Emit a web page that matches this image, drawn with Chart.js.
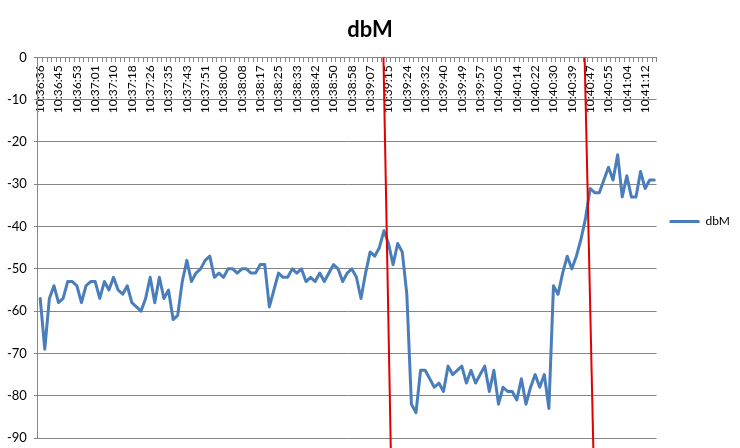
<!DOCTYPE html>
<html>
<head>
<meta charset="utf-8">
<script src="https://cdn.jsdelivr.net/npm/chart.js@4/dist/chart.umd.min.js"></script>
<style>
  html, body { margin: 0; padding: 0; background: #ffffff; }
  #wrap { width: 740px; height: 448px; position: relative; }
</style>
</head>
<body>
<div id="wrap"><canvas id="c"></canvas></div>
<script>
// Visible tick labels (every 4th sample is labelled on the axis)
const tickLabels = ['10:36:36','10:36:45','10:36:53','10:37:01','10:37:10','10:37:18','10:37:26','10:37:35',
  '10:37:43','10:37:51','10:38:00','10:38:08','10:38:17','10:38:25','10:38:33','10:38:42','10:38:50',
  '10:38:58','10:39:07','10:39:15','10:39:24','10:39:32','10:39:40','10:39:49','10:39:57','10:40:05',
  '10:40:14','10:40:22','10:40:30','10:40:39','10:40:47','10:40:55','10:41:04','10:41:12'];
const labelEvery = 4;

// dbM series values
const dbM = [
  -57,-69,-57,-54,-58,-57,-53,-53,-54,-58,
  -54,-53,-53,-57,-53,-55,-52,-55,-56,-54,
  -58,-59,-60,-57,-52,-58,-52,-57,-55,-62,
  -61,-53,-48,-53,-51,-50,-48,-47,-52,-51,
  -52,-50,-50,-51,-50,-50,-51,-51,-49,-49,
  -59,-55,-51,-52,-52,-50,-51,-50,-53,-52,
  -53,-51,-53,-51,-49,-50,-53,-51,-50,-52,
  -57,-51,-46,-47,-45,-41,-44,-49,-44,-46,
  -56,-82,-84,-74,-74,-76,-78,-77,-79,-73,
  -75,-74,-73,-77,-74,-77,-75,-73,-79,-74,
  -82,-78,-79,-79,-81,-76,-82,-78,-75,-78,
  -75,-83,-54,-56,-51,-47,-50,-47,-43,-38,
  -31,-32,-32,-29,-26,-29,-23,-33,-28,-33,
  -33,-27,-31,-29,-29
];

// Hand-drawn red marker lines, in (sample index, dBm) space
const redLine1 = [{x: 74.9, y: 0}, {x: 76.5, y: -92.5}];
const redLine2 = [{x: 118.8, y: 0}, {x: 120.7, y: -92.5}];

// Y axis tick range
const yMin = -90, yMax = 0, yStep = 10;

const categories = dbM.map((_, i) => (i % labelEvery === 0 ? (tickLabels[i / labelEvery] || '') : ''));

const FONT = 'Lato, "Liberation Sans", Arial, sans-serif';
const gridColor = '#868686';

new Chart(document.getElementById('c'), {
  type: 'line',
  data: {
    labels: categories,
    datasets: [
      {
        label: 'dbM',
        data: dbM,
        borderColor: '#4A7EBB',
        backgroundColor: '#4A7EBB',
        borderWidth: 3,
        pointRadius: 0,
        pointHoverRadius: 0,
        tension: 0,
        borderJoinStyle: 'round',
        borderCapStyle: 'round',
        order: 1
      },
      {
        label: 'marker1',
        data: redLine1,
        xAxisID: 'x2',
        borderColor: '#E00000',
        borderWidth: 2,
        pointRadius: 0,
        clip: false,
        order: 0
      },
      {
        label: 'marker2',
        data: redLine2,
        xAxisID: 'x2',
        borderColor: '#E00000',
        borderWidth: 2,
        pointRadius: 0,
        clip: false,
        order: 0
      }
    ]
  },
  options: {
    responsive: true,
    maintainAspectRatio: false,
    animation: false,
    events: [],
    layout: { padding: { left: 0, right: 0, top: 5, bottom: 10 } },
    plugins: {
      title: {
        display: true,
        text: 'dbM',
        color: '#000',
        font: { family: FONT, size: 22, weight: 'bold' },
        padding: { top: 12, bottom: 14 }
      },
      legend: {
        position: 'right',
        labels: {
          usePointStyle: true,
          pointStyle: 'line',
          pointStyleWidth: 30,
          padding: 13,
          color: '#000',
          font: { family: FONT, size: 12 },
          filter: (item) => item.datasetIndex === 0
        }
      },
      tooltip: { enabled: false }
    },
    scales: {
      x: {
        type: 'category',
        offset: true,
        position: { y: 0 },
        afterFit: (s) => { s.height = 0; s.paddingTop = 0; s.paddingBottom = 0; },
        grid: { display: true, drawOnChartArea: false, drawTicks: true, tickLength: 4, color: gridColor, offset: true },
        border: { display: true, color: gridColor },
        ticks: {
          autoSkip: false,
          minRotation: 90,
          maxRotation: 90,
          padding: 4,
          color: '#000',
          font: { family: FONT, size: 12 }
        }
      },
      x2: {
        type: 'linear',
        display: false,
        min: -0.5,
        max: dbM.length - 0.5,
        afterFit: (s) => { s.paddingTop = 0; s.paddingBottom = 0; s.paddingLeft = 0; s.paddingRight = 0; }
      },
      y: {
        min: yMin,
        max: yMax,
        afterFit: (s) => { s.paddingBottom = 0; },
        ticks: { stepSize: yStep, color: '#000', padding: 7, font: { family: FONT, size: 13 } },
        grid: { color: gridColor, tickLength: 4, drawTicks: true },
        border: { display: true, color: gridColor }
      }
    }
  }
});
</script>
</body>
</html>
